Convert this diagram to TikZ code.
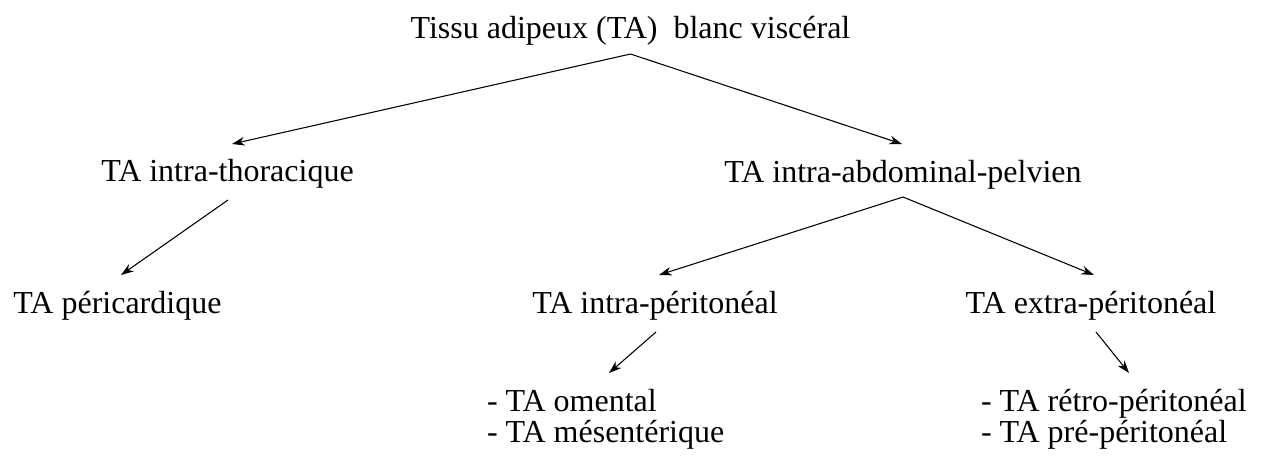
\documentclass[tikz,border=0pt]{standalone}
\usepackage{fontspec}
\setmainfont{Liberation Serif}
\usetikzlibrary{arrows.meta,calc}
\begin{document}
\begin{tikzpicture}[x=0.75pt,y=-0.75pt,
  lbl/.style={inner sep=0pt,outer sep=0pt,font=\fontsize{24pt}{28pt}\selectfont,text=black},
  arr/.style={-{Stealth[length=9.5pt,width=6.5pt,inset=3pt]},line width=0.8pt,black}]
\useasboundingbox[fill=white] (0,0) rectangle (1266,455);
\node[lbl,anchor=base] (title) at (630.5,38) {Tissu adipeux (TA)\ \ blanc viscéral};
\node[lbl,anchor=base] (thor) at (227.5,181) {TA intra-thoracique};
\node[lbl,anchor=base] (abd) at (903,182) {TA intra-abdominal-pelvien};
\node[lbl,anchor=base] (peri) at (117.5,313) {TA péricardique};
\node[lbl,anchor=base] (intra) at (655,313) {TA intra-péritonéal};
\node[lbl,anchor=base] (extra) at (1091,313) {TA extra-péritonéal};
\node[lbl,anchor=base west] (oment) at (487,411) {- TA omental};
\node[lbl,anchor=base west] (mesen) at (487,442) {- TA mésentérique};
\node[lbl,anchor=base west] (retro) at (981,411) {- TA rétro-péritonéal};
\node[lbl,anchor=base west] (prep) at (981,442) {- TA pré-péritonéal};
\draw[arr] ($(title.base)+(0,16)$) -- ($(thor.base)+(4.5,-37)$);
\draw[arr] ($(title.base)+(0,16)$) -- ($(abd.base)+(-1,-38)$);
\draw[arr] ($(thor.base)+(0.5,19)$) -- ($(peri.base)+(3.5,-38)$);
\draw[arr] ($(abd.base)+(0,15)$) -- ($(intra.base)+(4,-38)$);
\draw[arr] ($(abd.base)+(0,15)$) -- ($(extra.base)+(3,-38)$);
\draw[arr] ($(intra.base)+(1,19)$) -- ($(oment.base west)+(122,-38)$);
\draw[arr] ($(extra.base)+(5,19)$) -- ($(retro.base west)+(148,-38)$);
\end{tikzpicture}
\end{document}
